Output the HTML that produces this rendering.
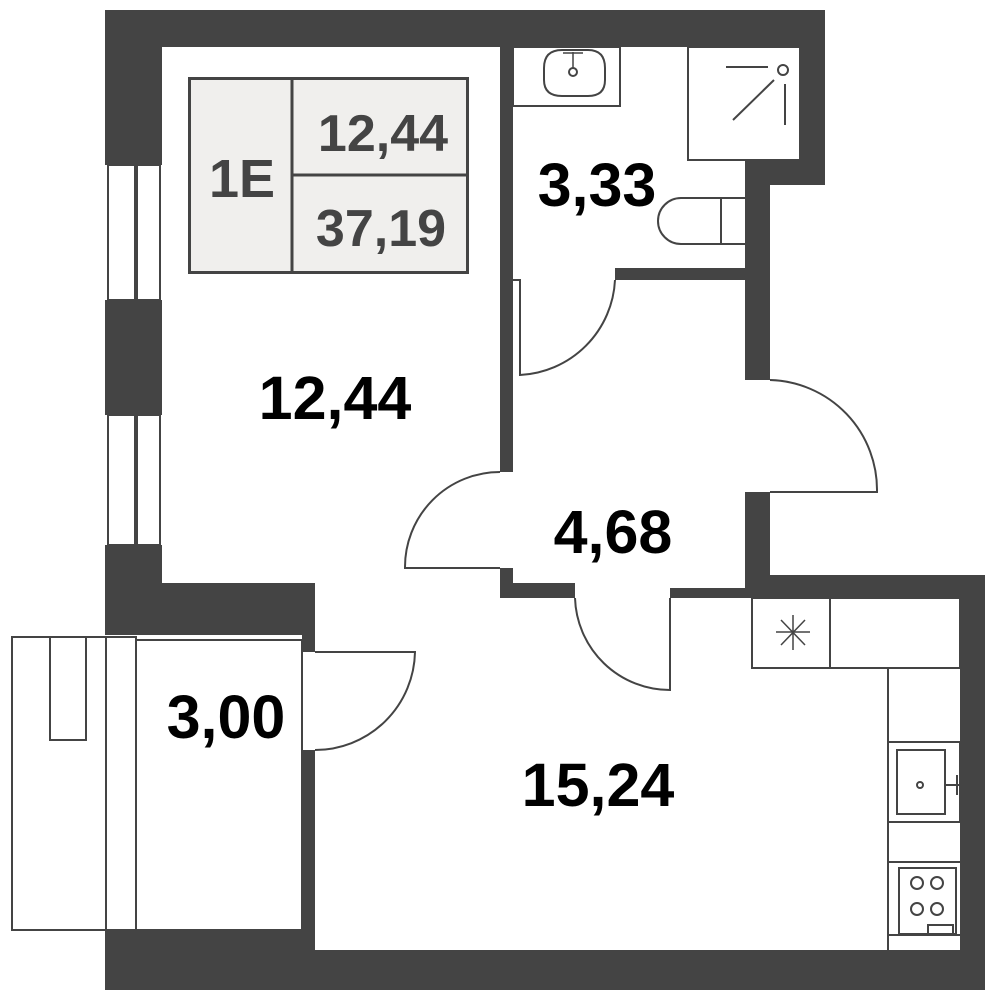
<!DOCTYPE html>
<html><head><style>html,body{margin:0;padding:0;background:#fff}svg{display:block}</style></head><body>
<svg width="997" height="1000" viewBox="0 0 997 1000" xmlns="http://www.w3.org/2000/svg">
<g fill="#444">
<rect x="105" y="10" width="720" height="37"/>
<rect x="105" y="10" width="57" height="155"/>
<rect x="105" y="300" width="57" height="115"/>
<rect x="105" y="545" width="57" height="90"/>
<rect x="105" y="583" width="210" height="52"/>
<rect x="800" y="10" width="25" height="175"/>
<rect x="745" y="160" width="80" height="25"/>
<rect x="745" y="160" width="25" height="220"/>
<rect x="745" y="492" width="25" height="106"/>
<rect x="745" y="575" width="240" height="23"/>
<rect x="960" y="575" width="25" height="415"/>
<rect x="105" y="930" width="210" height="60"/>
<rect x="302" y="950" width="683" height="40"/>
<rect x="302" y="635" width="13" height="17"/>
<rect x="302" y="750" width="13" height="200"/>
<rect x="500" y="47" width="13" height="425"/>
<rect x="615" y="268" width="130" height="12"/>
<rect x="500" y="568" width="13" height="30"/>
<rect x="500" y="583" width="75" height="15"/>
<rect x="670" y="588" width="75" height="10"/>
</g>
<g fill="none" stroke="#444" stroke-width="2">
<rect x="108" y="165" width="27" height="135"/><rect x="137" y="165" width="23" height="135"/>
<rect x="108" y="415" width="27" height="130"/><rect x="137" y="415" width="23" height="130"/>
<rect x="12" y="637" width="94" height="293"/>
<rect x="50" y="637" width="36" height="103"/>
<rect x="106" y="637" width="30" height="293"/>
<rect x="136" y="640" width="166" height="290"/>
<path d="M315 652 L415 652 A100 100 0 0 1 315 750"/>
<path d="M513 280 L520 280 L520 375 A100 100 0 0 0 615 280"/>
<path d="M770 380 A110 110 0 0 1 877 492 L770 492"/>
<path d="M500 472 A95 95 0 0 0 405 568 L500 568"/>
<path d="M670 598 L670 690 A95 95 0 0 1 575 598"/>
<rect x="513" y="47" width="107" height="59"/>
<path d="M544 68 Q544 50 562 50 L588 50 Q605 50 605 68 L605 80 Q605 96 588 96 L562 96 Q544 96 544 80Z"/>
<circle cx="573" cy="72" r="4"/>
<path d="M573 68 L573 52 M563 53 L583 53" stroke-width="1.5"/>
<rect x="688" y="47" width="112" height="113"/>
<path d="M726 67 L768 67 M774 80 L733 120 M785 84 L785 125"/>
<circle cx="783" cy="70" r="5"/>
<path d="M745 198 L681 198 A23 23 0 0 0 681 244 L745 244 M721 198 L721 244"/>
<rect x="752" y="598" width="208" height="70"/>
<path d="M830 598 L830 668"/>
<path d="M793 615 L793 650 M776 632 L810 632 M781 620 L805 645 M805 620 L781 645" stroke-width="1.5"/>
<path d="M888 668 L888 950"/>
<rect x="888" y="742" width="72" height="80"/>
<rect x="897" y="750" width="48" height="64"/>
<circle cx="920" cy="785" r="3"/>
<path d="M945 785 L962 785 M957 775 L957 795"/>
<path d="M888 862 L960 862 M888 935 L960 935"/>
<rect x="899" y="868" width="57" height="66"/>
<circle cx="917" cy="883" r="6"/><circle cx="937" cy="883" r="6"/>
<circle cx="917" cy="909" r="6"/><circle cx="937" cy="909" r="6"/>
<rect x="928" y="925" width="25" height="9"/>
</g>
<rect x="189.5" y="78.5" width="278" height="194" fill="#f0efed" stroke="#444" stroke-width="3"/>
<path d="M292 78 L292 273 M292 175 L468 175" stroke="#444" stroke-width="3"/>
<g font-family="Liberation Sans, sans-serif" font-weight="bold" text-anchor="middle">
<text x="242" y="197" font-size="54" fill="#444">1E</text>
<text x="383" y="151" font-size="52" fill="#444">12,44</text>
<text x="381" y="246" font-size="52" fill="#444">37,19</text>
<text x="335" y="419" font-size="61" fill="#000">12,44</text>
<text x="597" y="206" font-size="61" fill="#000">3,33</text>
<text x="613" y="553" font-size="61" fill="#000">4,68</text>
<text x="226" y="738" font-size="61" fill="#000">3,00</text>
<text x="598" y="806" font-size="61" fill="#000">15,24</text>
</g>
</svg>
</body></html>
